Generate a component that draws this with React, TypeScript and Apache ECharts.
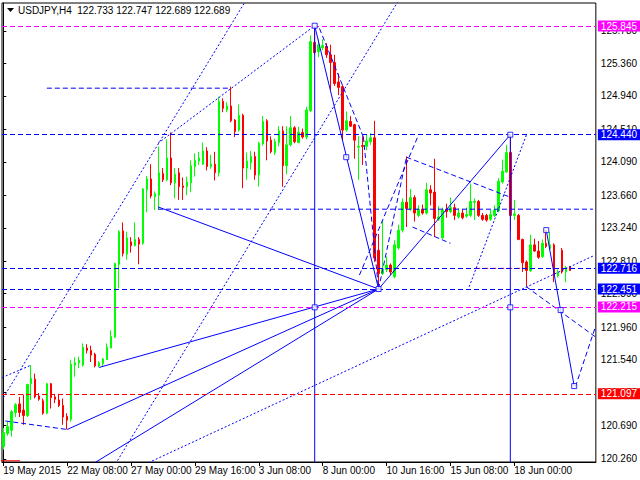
import { useEffect, useRef } from 'react';
import * as echarts from 'echarts';

const symbolTitle = 'USDJPY,H4';
const lastQuote = [122.733, 122.747, 122.689, 122.689];

// [open, close, low, high] per H4 bar
const candles: number[][] = [
  [120.42, 120.60, 120.38, 120.66], [120.59, 120.68, 120.56, 120.74], [120.63, 120.87, 120.55, 120.89], [120.86, 120.96, 120.80, 120.98],
  [120.97, 120.86, 120.80, 121.06], [120.89, 120.82, 120.70, 121.09], [120.82, 121.22, 120.80, 121.23], [121.23, 121.30, 121.02, 121.47],
  [121.29, 121.06, 121.04, 121.36], [121.07, 121.03, 121.01, 121.11], [121.01, 120.85, 120.83, 121.04], [120.85, 121.23, 120.84, 121.24],
  [121.23, 121.05, 120.91, 121.24], [121.06, 121.03, 120.98, 121.10], [121.02, 120.95, 120.93, 121.10], [120.95, 120.80, 120.70, 121.04],
  [120.81, 120.76, 120.64, 120.85], [120.77, 121.48, 120.74, 121.54], [121.47, 121.50, 121.32, 121.57], [121.50, 121.53, 121.43, 121.58],
  [121.47, 121.70, 121.45, 121.75], [121.69, 121.66, 121.62, 121.74], [121.66, 121.60, 121.51, 121.72], [121.61, 121.46, 121.44, 121.63],
  [121.46, 121.50, 121.44, 121.52], [121.49, 121.55, 121.46, 121.56], [121.54, 121.70, 121.54, 121.75], [121.69, 121.84, 121.69, 121.92],
  [121.83, 122.78, 121.82, 122.79], [122.77, 123.19, 122.46, 123.21], [123.20, 122.91, 122.87, 123.31], [122.90, 123.11, 122.83, 123.19],
  [123.06, 123.01, 122.92, 123.12], [123.01, 123.09, 123.00, 123.31], [123.09, 123.03, 122.77, 123.12], [123.04, 123.74, 123.02, 123.75],
  [123.73, 123.87, 123.44, 123.91], [123.87, 123.65, 123.62, 124.06], [123.64, 123.68, 123.47, 123.71], [123.66, 123.95, 123.48, 124.29],
  [123.94, 123.86, 123.83, 124.01], [123.86, 124.14, 123.84, 124.38], [124.14, 123.82, 123.79, 124.47], [123.82, 123.93, 123.62, 124.01],
  [123.95, 123.77, 123.60, 124.01], [123.78, 123.76, 123.60, 123.89], [123.77, 123.83, 123.66, 123.90], [123.82, 124.04, 123.70, 124.11],
  [124.03, 124.11, 123.90, 124.20], [124.10, 124.14, 124.05, 124.22], [124.06, 124.23, 124.05, 124.34], [124.23, 124.03, 123.98, 124.28],
  [124.03, 124.06, 124.00, 124.18], [124.06, 123.95, 123.85, 124.22], [123.95, 124.87, 123.90, 124.93], [124.87, 124.78, 124.73, 124.91],
  [124.76, 124.81, 124.73, 124.86], [124.81, 124.62, 124.60, 125.06], [124.63, 124.48, 124.41, 124.64], [124.50, 124.69, 124.48, 124.83],
  [124.69, 124.01, 123.75, 124.71], [124.01, 124.10, 123.86, 124.21], [124.08, 124.16, 123.99, 124.23], [124.16, 123.92, 123.86, 124.22],
  [123.92, 124.33, 123.77, 124.35], [124.32, 124.61, 124.30, 124.68], [124.62, 124.36, 124.11, 124.64], [124.37, 124.22, 124.20, 124.42],
  [124.21, 124.35, 124.18, 124.39], [124.34, 124.49, 124.29, 124.55], [124.49, 124.04, 123.77, 124.55], [124.04, 124.31, 123.93, 124.55],
  [124.31, 124.53, 124.29, 124.68], [124.53, 124.35, 124.33, 124.55], [124.34, 124.47, 124.33, 124.54], [124.47, 124.41, 124.39, 124.52],
  [124.41, 124.76, 124.38, 124.80], [124.75, 125.64, 124.73, 125.72], [125.63, 125.50, 125.47, 125.845], [125.51, 125.60, 125.44, 125.67],
  [125.56, 125.59, 125.53, 125.67], [125.58, 125.47, 125.43, 125.62], [125.47, 125.37, 125.02, 125.60], [125.37, 125.10, 125.07, 125.47],
  [125.12, 125.05, 124.95, 125.23], [125.06, 124.50, 124.37, 125.08], [124.50, 124.62, 124.48, 124.74], [124.61, 124.55, 124.54, 124.68],
  [124.57, 124.37, 124.13, 124.58], [124.28, 124.29, 123.86, 124.42], [124.30, 124.29, 124.05, 124.42], [124.29, 124.36, 124.24, 124.44],
  [124.35, 124.40, 124.31, 124.46], [124.40, 122.85, 122.80, 124.62], [122.95, 122.65, 122.451, 123.16], [122.65, 122.70, 122.63, 123.33],
  [122.70, 122.76, 122.67, 122.87], [122.76, 122.67, 122.63, 122.78], [122.61, 123.02, 122.59, 123.08], [122.98, 123.21, 122.96, 123.28],
  [123.21, 123.57, 123.18, 123.62], [123.57, 123.49, 123.25, 124.16], [123.48, 123.63, 123.46, 123.74], [123.63, 123.43, 123.32, 123.66],
  [123.40, 123.48, 123.38, 123.53], [123.48, 123.43, 123.41, 123.54], [123.43, 123.73, 123.41, 123.82], [123.73, 123.69, 123.53, 123.79],
  [123.70, 123.36, 123.12, 124.13], [123.35, 123.38, 123.33, 123.52], [123.11, 123.47, 123.10, 123.50], [123.48, 123.45, 123.37, 123.55],
  [123.45, 123.50, 123.43, 123.63], [123.50, 123.40, 123.34, 123.55], [123.38, 123.43, 123.36, 123.49], [123.43, 123.37, 123.35, 123.48],
  [123.39, 123.41, 123.37, 123.50], [123.40, 123.58, 123.38, 123.81], [123.57, 123.58, 123.34, 123.62], [123.58, 123.40, 123.38, 123.60],
  [123.40, 123.35, 123.33, 123.43], [123.40, 123.34, 123.32, 123.42], [123.35, 123.41, 123.33, 123.47], [123.40, 123.47, 123.38, 123.53],
  [123.46, 123.84, 123.44, 123.88], [123.83, 123.97, 123.81, 124.12], [123.96, 124.21, 123.95, 124.31], [124.21, 123.40, 123.21, 124.44],
  [123.40, 123.42, 123.34, 123.60], [123.40, 123.09, 123.08, 123.42], [123.09, 122.79, 122.67, 123.10], [122.80, 122.69, 122.48, 122.82],
  [122.69, 123.02, 122.67, 123.15], [123.02, 122.94, 122.93, 123.10], [122.94, 122.86, 122.84, 123.07], [122.87, 123.04, 122.85, 123.09],
  [123.04, 123.00, 122.98, 123.21], [122.97, 123.02, 122.95, 123.19], [123.02, 122.63, 122.54, 123.04], [122.62, 122.67, 122.60, 122.70],
  [122.95, 122.67, 122.65, 122.98], [122.67, 122.73, 122.54, 122.75], [122.733, 122.689, 122.689, 122.747],
];

const timeTickBars = [0, 16, 32, 48, 64, 80, 96, 112, 128];
const timeTickLabels = ['19 May 2015', '22 May 08:00', '27 May 00:00', '29 May 16:00', '3 Jun 08:00', '8 Jun 00:00', '10 Jun 16:00', '15 Jun 08:00', '18 Jun 00:00'];
const priceTicks = [120.26, 120.69, 121.12, 121.54, 121.96, 122.39, 122.81, 123.24, 123.66, 124.09, 124.51, 124.94, 125.36, 125.78];

const magentaLevels = [125.845, 122.215];
const blueLevels = [124.44, 122.716, 122.451];
const redLevels = [121.097];

// trendline anchors: [bar index, price]
const solidTrendlines = [
  [[38.75, 123.51], [94, 122.451]],
  [[24, 121.44], [94, 122.451]],
  [[16, 120.64], [94, 122.451]],
  [[20, 120.12], [94, 122.451]],
  [[78, 125.845], [94, 122.451]],
  [[94, 122.451], [127, 124.44]],
  [[136, 123.21], [143, 121.2]],
  [[78, 125.845], [78, 119.5]],
  [[127, 124.44], [127, 119.5]],
];
const dashedTrendlines = [
  [[10.9, 125.04], [57.1, 125.04]],
  [[38.75, 123.48], [147.7, 123.48]],
  [[94, 122.451], [101, 124.15]],
  [[101, 124.15], [126.7, 123.64]],
  [[102.5, 123.25], [112, 123.04]],
  [[89.2, 122.63], [103.7, 124.4]],
  [[79.2, 125.81], [90.2, 124.41]],
  [[90.2, 124.41], [94, 122.451]],
  [[0.5, 120.75], [16, 120.64]],
  [[143.3, 121.19], [148.3, 121.96]],
  [[131, 122.48], [148.7, 121.82]],
];
const dottedTrendlines = [
  [[26, 120.02], [99, 126.17]],
  [[0, 121.05], [60.4, 126.14]],
  [[38.75, 124.33], [78, 125.845]],
  [[-0.3, 121.31], [7, 121.47]],
  [[30, 120.06], [147.9, 122.88]],
  [[116.7, 122.48], [131.2, 124.46]],
];
const redDashedSegments = [[[118.2, 122.717], [129.7, 122.717]]];
const redSolidSegments = [[[-1, 120.237], [4.2, 120.237]]];
const anchorPoints = [
  [78, 125.845], [127, 124.44], [85.9, 124.15], [94, 122.451], [78, 122.215],
  [127, 122.215], [136, 123.21], [139.6, 122.18], [143, 121.2],
];

const FONT = '"Liberation Sans", Arial, sans-serif';
const GREEN = '#00ff00';
const RED = '#ff0000';
const BLUE = '#0000ff';
const MAGENTA = '#ff00ff';
const DASH = [5, 3];
const DOT = [2, 2];

function segSeries(pts: number[][], color: string, type: any) {
  return {
    type: 'line', data: pts, symbol: 'none', silent: true, clip: true, z: 3,
    lineStyle: { color, width: 1, type }, animation: false,
  };
}

export default function App() {
  const ref = useRef<HTMLDivElement>(null);
  useEffect(() => {
    if (!ref.current) return;
    const chart = echarts.init(ref.current, undefined, { renderer: 'svg' });
    const levels = [
      ...magentaLevels.map((p) => ({ p, c: MAGENTA })),
      ...blueLevels.map((p) => ({ p, c: BLUE })),
      ...redLevels.map((p) => ({ p, c: RED })),
    ];
    const series: any[] = [
      {
        type: 'candlestick',
        data: candles.map((c, i) => [i, c[0], c[1], c[2], c[3]]),
        barWidth: 2,
        silent: true,
        z: 2,
        itemStyle: { color: GREEN, color0: RED, borderColor: GREEN, borderColor0: RED, borderWidth: 1 },
      },
      ...solidTrendlines.map((s) => segSeries(s, BLUE, 'solid')),
      ...dashedTrendlines.map((s) => segSeries(s, BLUE, DASH)),
      ...dottedTrendlines.map((s) => segSeries(s, BLUE, DOT)),
      {
        type: 'line', data: [], silent: true, z: 3,
        markLine: {
          silent: true, symbol: ['none', 'none'], animation: false,
          data: levels.map((l) => ({
            yAxis: l.p,
            lineStyle: { color: l.c, type: DASH, width: 1 },
            label: {
              show: true, position: 'end', formatter: l.p.toFixed(3), color: '#fff',
              backgroundColor: l.c, padding: [1, 3, 0, 3], fontSize: 10, fontFamily: FONT, distance: 2,
            },
          })),
        },
      },
      ...redDashedSegments.map((s) => ({ ...segSeries(s, RED, DASH), z: 4 })),
      ...redSolidSegments.map((s) => segSeries(s, RED, 'solid')),
      {
        type: 'scatter', data: anchorPoints, symbol: 'rect', symbolSize: 5, silent: true, z: 5,
        itemStyle: { color: '#fff', borderColor: BLUE, borderWidth: 1 },
      },
    ];
    chart.setOption({
      animation: false,
      backgroundColor: '#fff',
      grid: { left: 2, right: 43, top: 3, bottom: 18, show: true, borderColor: '#000', borderWidth: 1, backgroundColor: '#fff' },
      xAxis: {
        type: 'value', min: -0.325, max: 148.425,
        axisLine: { show: true, lineStyle: { color: '#000', width: 1 } },
        axisTick: { show: true, customValues: timeTickBars, length: 4, lineStyle: { color: '#000' } },
        axisLabel: {
          customValues: timeTickBars, color: '#000', fontSize: 10, fontFamily: FONT, align: 'left', margin: 3,
          formatter: (v: number) => { const k = timeTickBars.indexOf(Math.round(v)); return k >= 0 ? timeTickLabels[k] : ''; },
        },
        splitLine: { show: false },
      },
      yAxis: {
        type: 'value', position: 'right', min: 120.221, max: 126.138, scale: true,
        axisLine: { show: true, lineStyle: { color: '#000', width: 1 } },
        axisTick: { show: true, customValues: priceTicks, length: 3, lineStyle: { color: '#000' } },
        axisLabel: {
          customValues: priceTicks, color: '#000', fontSize: 10, fontFamily: FONT, margin: 5,
          formatter: (v: number) => v.toFixed(3),
        },
        splitLine: { show: false },
      },
      graphic: [
        { type: 'polygon', shape: { points: [[7, 8], [14, 8], [10.5, 12]] }, style: { fill: '#000' } },
        {
          type: 'text', x: 18, y: 5,
          style: { text: `${symbolTitle}  ${lastQuote.map((v) => v.toFixed(3)).join(' ')}`, fill: '#000', fontSize: 10, fontFamily: FONT },
        },
      ],
      series,
    });
    return () => chart.dispose();
  }, []);
  return <div ref={ref} style={{ position: 'fixed', left: 0, top: 0, width: 640, height: 480, background: '#fff' }} />;
}
